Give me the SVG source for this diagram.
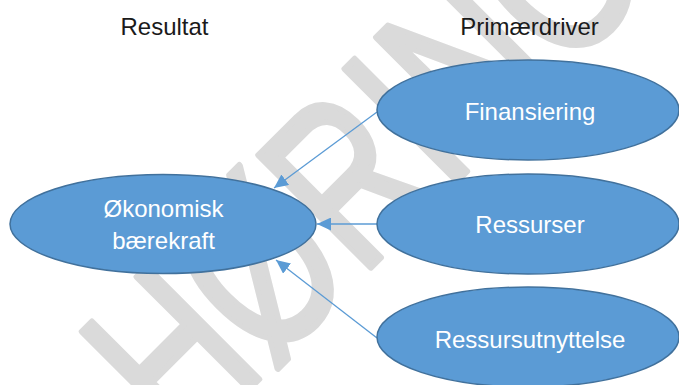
<svg xmlns="http://www.w3.org/2000/svg" width="679" height="385" viewBox="0 0 679 385">
  <style>
    .bg { fill: #ffffff; }
    .mark { fill: #dadada; stroke: #dadada; stroke-width: 4.5; stroke-linejoin: round; font-family: "Liberation Sans", Arial, sans-serif; font-size: 160px; }
    .head { fill: #1a1a1a; font-family: "Liberation Sans", Arial, sans-serif; font-size: 24px; text-anchor: middle; }
    .node ellipse { fill: #5B9BD5; stroke: #41719C; stroke-width: 1.5; }
    .node text { fill: #ffffff; font-family: "Liberation Sans", Arial, sans-serif; font-size: 24px; text-anchor: middle; }
    .edge { stroke: #5B9BD5; stroke-width: 1.3; fill: none; marker-end: url(#ah); }
  </style>
  <defs>
    <marker id="ah" markerUnits="userSpaceOnUse" markerWidth="14" markerHeight="13" viewBox="0 0 14 13" refX="14" refY="6.5" orient="auto">
      <path d="M0,0 L14,6.5 L0,13 z" fill="#5B9BD5"/>
    </marker>
  </defs>

  <rect class="bg" x="0" y="0" width="679" height="385"/>

  <!-- diagonal watermark behind the diagram -->
  <g id="watermark">
    <text class="mark" transform="translate(184,454) rotate(-45) scale(1.04,1.44)" x="0" y="0">HØRING</text>
  </g>

  <!-- column headings -->
  <text class="head" x="164.5" y="35">Resultat</text>
  <text class="head" x="529.5" y="35">Primærdriver</text>

  <!-- connectors -->
  <g id="connectors">
    <line class="edge" x1="377" y1="112" x2="274" y2="188"/>
    <line class="edge" x1="377" y1="224" x2="317" y2="224"/>
    <line class="edge" x1="377" y1="338" x2="276" y2="260"/>
  </g>

  <g id="okonomisk" class="node">
    <ellipse cx="163" cy="224" rx="153" ry="49.5"/>
    <text x="163.5" y="217">Økonomisk</text>
    <text x="163.5" y="249">bærekraft</text>
  </g>

  <g id="finansiering" class="node">
    <ellipse cx="528" cy="110" rx="151" ry="50"/>
    <text x="530" y="120">Finansiering</text>
  </g>

  <g id="ressurser" class="node">
    <ellipse cx="528" cy="224" rx="151" ry="50"/>
    <text x="530" y="233">Ressurser</text>
  </g>

  <g id="ressursutnyttelse" class="node">
    <ellipse cx="528" cy="337" rx="151" ry="50"/>
    <text x="530" y="348">Ressursutnyttelse</text>
  </g>
</svg>
